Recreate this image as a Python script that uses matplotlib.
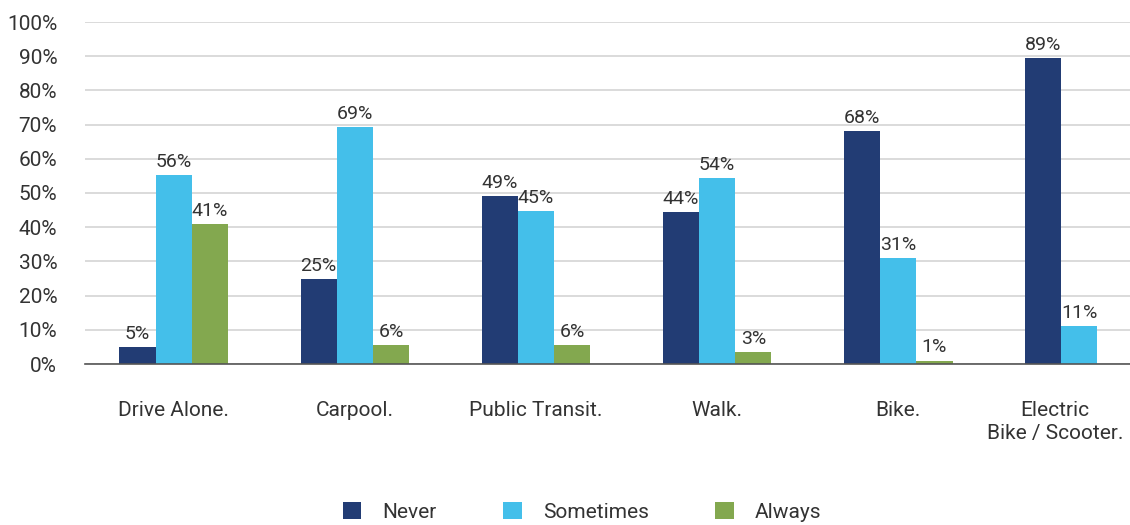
import matplotlib.pyplot as plt
import matplotlib.transforms as mtransforms
import numpy as np

plt.rcParams['font.family'] = ['Roboto', 'DejaVu Sans']

# data
categories = ['Drive Alone.', 'Carpool.', 'Public Transit.', 'Walk.', 'Bike.',
              'Electric\nBike / Scooter.']
never = [5.0, 24.9, 49.1, 44.4, 68.1, 89.5]
sometimes = [55.3, 69.3, 44.7, 54.4, 31.0, 11.1]
always = [41.0, 5.6, 5.6, 3.5, 1.0, 0.0]
never_lbl = ['5%', '25%', '49%', '44%', '68%', '89%']
sometimes_lbl = ['56%', '69%', '45%', '54%', '31%', '11%']
always_lbl = ['41%', '6%', '6%', '3%', '1%', '']

series = [('Never', never, never_lbl, '#223c74'),
          ('Sometimes', sometimes, sometimes_lbl, '#44bfea'),
          ('Always', always, always_lbl, '#83a84f')]

txt = '#333333'
fig = plt.figure(figsize=(11.3, 5.25), dpi=100)
ax = fig.add_axes([85 / 1130, 161 / 525, 1045 / 1130, 342 / 525])

x = np.arange(len(categories))
w = 0.2
for i, (name, vals, lbls, col) in enumerate(series):
    bars = ax.bar(x + (i - 1) * w, vals, w, color=col, label=name, zorder=3)
    for b, l in zip(bars, lbls):
        if l:
            ax.text(b.get_x() + b.get_width() / 2, b.get_height() + 1.2, l,
                    ha='center', va='bottom', fontsize=14, color=txt)

ax.set_ylim(0, 100)
ax.set_xlim(-0.49, 5.28)
ax.set_yticks(range(0, 101, 10))
ax.set_yticklabels([f'{v}%' for v in range(0, 101, 10)], fontsize=15, color=txt)
ax.set_xticks(x)
ax.set_xticklabels(categories, fontsize=15, color=txt, linespacing=1.25)
ax.tick_params(axis='y', length=0, pad=20)
ax.tick_params(axis='x', length=0, pad=27)
# last label sits against the right edge, nudge it left
last = ax.get_xticklabels()[-1]
last.set_transform(last.get_transform() +
                   mtransforms.ScaledTranslation(-24 / 100, 0, fig.dpi_scale_trans))
ax.grid(axis='y', color='#d4d4d4', linewidth=1.2, zorder=0)
for s in ['top', 'right', 'left']:
    ax.spines[s].set_visible(False)
ax.spines['bottom'].set_color('#555555')
ax.spines['bottom'].set_linewidth(1.2)
ax.spines['bottom'].set_zorder(4)

leg = fig.legend(loc='center', bbox_to_anchor=(0.515, 0.025), ncol=3, frameon=False,
                 fontsize=15, handlelength=0.9, handleheight=0.9, handletextpad=1.0,
                 columnspacing=3.2)
for t in leg.get_texts():
    t.set_color(txt)

fig.savefig('out.png', dpi=100)
